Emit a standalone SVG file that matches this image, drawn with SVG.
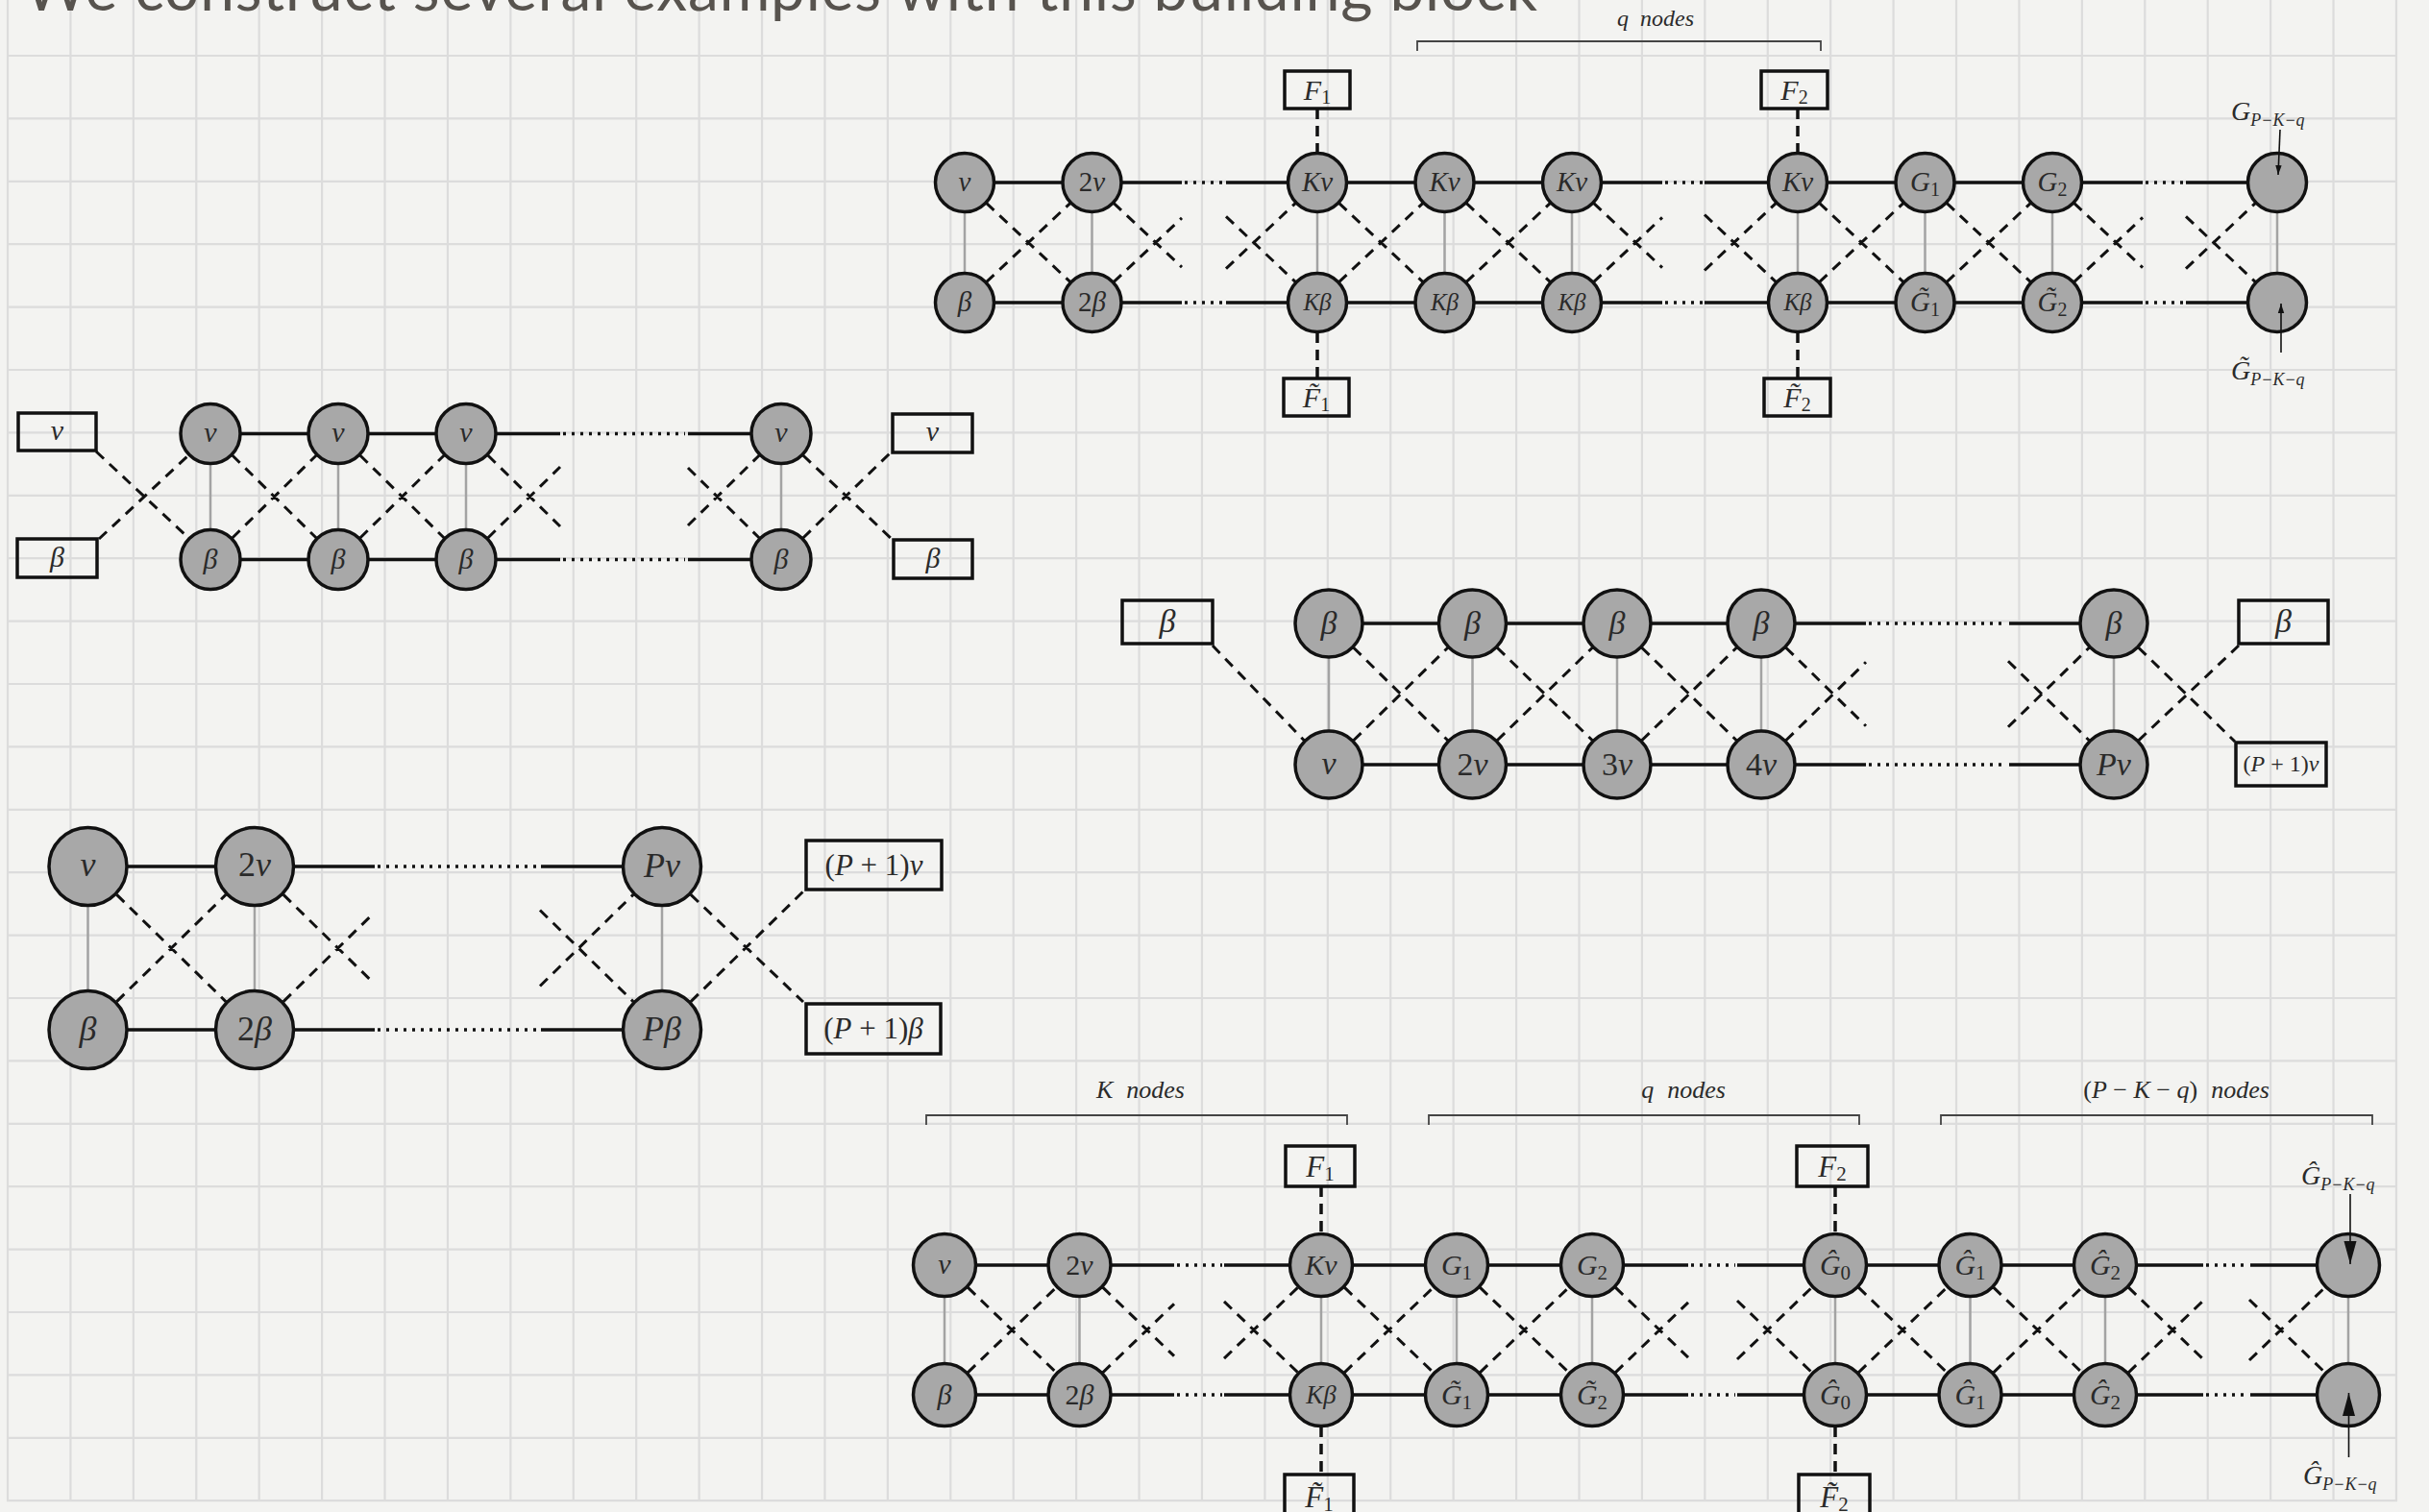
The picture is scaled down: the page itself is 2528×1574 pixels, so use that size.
<svg xmlns="http://www.w3.org/2000/svg" width="2528" height="1574" viewBox="0 0 2528 1574">
<defs>
<style>
.n{fill:#a8a8a8;stroke:#111;stroke-width:3.5}
.e{stroke:#111;stroke-width:3.5;fill:none}
.dt{stroke:#111;stroke-width:3.5;stroke-dasharray:3 6;fill:none}
.v{stroke:#a3a3a3;stroke-width:2.5;fill:none}
.x{stroke:#111;stroke-width:3;stroke-dasharray:11 8;fill:none}
.fd{stroke:#111;stroke-width:3.5;stroke-dasharray:11 7;fill:none}
.bx{fill:none;stroke:#111;stroke-width:3.5}
.br{fill:none;stroke:#444;stroke-width:1.8}
.ar{stroke:#111;stroke-width:1.6;fill:none}
.m{font-family:"Liberation Serif","DejaVu Serif",serif;font-style:italic;fill:#2a2a2a;text-anchor:middle}
.ms{font-family:"Liberation Serif","DejaVu Serif",serif;font-style:italic;fill:#2a2a2a;text-anchor:start}
.u{font-style:normal}
.a{font-size:29px}
.b{font-size:30px}
.c{font-size:36px}
.d{font-size:34px}
</style>
<marker id="ahs" markerUnits="userSpaceOnUse" markerWidth="10" markerHeight="8" refX="10" refY="4" orient="auto"><path d="M0,0.8 L10,4 L0,7.2 z" fill="#111"/></marker>
<marker id="ahb" markerUnits="userSpaceOnUse" markerWidth="24" markerHeight="14" refX="24" refY="7" orient="auto"><path d="M0,0.5 L24,7 L0,13.5 z" fill="#111"/></marker>
</defs>
<rect width="2528" height="1574" fill="#f3f3f1"/>
<path fill="none" stroke="#dcdcdc" stroke-width="2.2" d="M8,0V1563M73.42,0V1563M138.84,0V1563M204.26,0V1563M269.68,0V1563M335.1,0V1563M400.52,0V1563M465.94,0V1563M531.36,0V1563M596.78,0V1563M662.2,0V1563M727.62,0V1563M793.04,0V1563M858.46,0V1563M923.88,0V1563M989.3,0V1563M1054.72,0V1563M1120.14,0V1563M1185.56,0V1563M1250.98,0V1563M1316.4,0V1563M1381.82,0V1563M1447.24,0V1563M1512.66,0V1563M1578.08,0V1563M1643.5,0V1563M1708.92,0V1563M1774.34,0V1563M1839.76,0V1563M1905.18,0V1563M1970.6,0V1563M2036.02,0V1563M2101.44,0V1563M2166.86,0V1563M2232.28,0V1563M2297.7,0V1563M2363.12,0V1563M2428.54,0V1563M2493.96,0V1563M7,58H2495M7,123.4H2495M7,188.8H2495M7,254.2H2495M7,319.6H2495M7,385H2495M7,450.4H2495M7,515.8H2495M7,581.2H2495M7,646.6H2495M7,712H2495M7,777.4H2495M7,842.8H2495M7,908.2H2495M7,973.6H2495M7,1039H2495M7,1104.4H2495M7,1169.8H2495M7,1235.2H2495M7,1300.6H2495M7,1366H2495M7,1431.4H2495M7,1496.8H2495M7,1562.2H2495"/>

<text x="25" y="11" font-family="Lato,'Open Sans',sans-serif" font-size="64" fill="#57534e" textLength="1575">We construct several examples with this building block</text>

<g id="connectors">
<!-- Diagram A -->
<path class="e" d="M1004,190H1230M1276,190H1730M1774,190H2230M2275,190H2370M1004,315H1230M1276,315H1730M1774,315H2230M2275,315H2370"/>
<path class="dt" d="M1233,190H1274M1733,190H1772M2233,190H2273M1233,315H1274M1733,315H1772M2233,315H2273"/>
<path class="v" d="M1004,190V315M1136.5,190V315M1371,190V315M1503.5,190V315M1636,190V315M1871,190V315M2003.5,190V315M2136,190V315M2370,190V315"/>
<path class="x" d="M1026.5,211.3L1114,293.7M1026.5,293.7L1114,211.3M1393.5,211.3L1481,293.7M1393.5,293.7L1481,211.3M1526,211.3L1613.5,293.7M1526,293.7L1613.5,211.3M1893.5,211.3L1981,293.7M1893.5,293.7L1981,211.3M2026,211.3L2113.5,293.7M2026,293.7L2113.5,211.3M1159,211.3L1230,278.2M1159,293.7L1230,226.8M1276,225.4L1348.5,293.7M1276,279.6L1348.5,211.3M1658.5,211.3L1730,278.7M1658.5,293.7L1730,226.3M1774,223.5L1848.5,293.7M1774,281.5L1848.5,211.3M2158.5,211.3L2230,278.6M2158.5,293.7L2230,226.4M2275,225.4L2347.5,293.7M2275,279.6L2347.5,211.3"/>
<path class="fd" d="M1371,113V160M1371,346V394M1871,113V160M1871,346V394"/>
<path class="br" d="M1475,53V43H1895V53"/>
<!-- Diagram B -->
<path class="e" d="M219,451.5H583M716,451.5H813M219,582.5H583M716,582.5H813"/>
<path class="dt" d="M586,451.5H713M586,582.5H713"/>
<path class="v" d="M219,451.5V582.5M352,451.5V582.5M485,451.5V582.5M813,451.5V582.5"/>
<path class="x" d="M100,470L196.2,560M103,561L196.2,474M241.8,474L329.2,560M241.8,560L329.2,474M374.8,474L462.2,560M374.8,560L462.2,474M507.8,474L583,548M507.8,560L583,486M716,487L790.2,560M716,547L790.2,474M835.8,474L928,561M835.8,560L926,472"/>
<!-- Diagram C -->
<path class="e" d="M91.5,902H390M563,902H689M91.5,1072H390M563,1072H689"/>
<path class="dt" d="M393,902H560M393,1072H560"/>
<path class="v" d="M91.5,902V1072M265,902V1072M689,902V1072"/>
<path class="x" d="M121.5,931.4L235,1042.6M121.5,1042.6L235,931.4M295,931.4L390,1024.5M295,1042.6L390,949.5M562,947.5L659,1042.6M562,1026.5L659,931.4M719,931.4L836,1043M719,1042.6L836,928"/>
<!-- Diagram D -->
<path class="e" d="M1383,649H1942M2091,649H2200M1383,796H1942M2091,796H2200"/>
<path class="dt" d="M1945,649H2089M1945,796H2089"/>
<path class="v" d="M1383,649V796M1532.5,649V796M1683,649V796M1833,649V796M2200,649V796"/>
<path class="x" d="M1262,672L1357.3,770.8M1408.7,674.2L1506.8,770.8M1408.7,770.8L1506.8,674.2M1558.2,674.2L1657.3,770.8M1558.2,770.8L1657.3,674.2M1708.7,674.2L1807.3,770.8M1708.7,770.8L1807.3,674.2M1858.7,674.2L1942,755.8M1858.7,770.8L1942,689.2M2090,688.2L2174.3,770.8M2090,756.8L2174.3,674.2M2225.7,674.2L2326,772M2225.7,770.8L2330,672"/>
<!-- Diagram E -->
<path class="e" d="M983,1317H1222M1274,1317H1757M1808,1317H2293M2342,1317H2444M983,1452H1222M1274,1452H1757M1808,1452H2293M2342,1452H2444"/>
<path class="dt" d="M1225,1317H1272M1760,1317H1806M2296,1317H2340M1225,1452H1272M1760,1452H1806M2296,1452H2340"/>
<path class="v" d="M983,1317V1452M1123.5,1317V1452M1375,1317V1452M1516,1317V1452M1657,1317V1452M1910,1317V1452M2050.5,1317V1452M2191,1317V1452M2444,1317V1452"/>
<path class="x" d="M1007.2,1340.2L1099.3,1428.8M1007.2,1428.8L1099.3,1340.2M1399.2,1340.2L1491.8,1428.8M1399.2,1428.8L1491.8,1340.2M1540.2,1340.2L1632.8,1428.8M1540.2,1428.8L1632.8,1340.2M1934.2,1340.2L2026.3,1428.8M1934.2,1428.8L2026.3,1340.2M2074.7,1340.2L2166.8,1428.8M2074.7,1428.8L2166.8,1340.2M1147.7,1340.2L1222,1411.7M1147.7,1428.8L1222,1357.3M1274,1354.9L1350.8,1428.8M1274,1414.1L1350.8,1340.2M1681.2,1340.2L1757,1413.1M1681.2,1428.8L1757,1355.9M1808,1354L1885.8,1428.8M1808,1415L1885.8,1340.2M2215.2,1340.2L2293,1415M2215.2,1428.8L2293,1354M2341,1353L2419.8,1428.8M2341,1416L2419.8,1340.2"/>
<path class="fd" d="M1375,1235V1284M1375,1485V1535M1910,1235V1284M1910,1485V1535"/>
<path class="br" d="M964,1171V1161H1402V1171M1487,1171V1161H1935V1171M2020,1171V1161H2469V1171"/>
</g>

<!-- Diagram A nodes -->
<g id="A-top1"><circle class="n" cx="1004" cy="190" r="30.5"/><text class="m a" x="1004" y="199">ν</text></g>
<g id="A-top2"><circle class="n" cx="1136.5" cy="190" r="30.5"/><text class="m a" x="1136.5" y="199"><tspan class="u">2</tspan>ν</text></g>
<g id="A-top3"><circle class="n" cx="1371" cy="190" r="30.5"/><text class="m a" x="1371" y="199">Kν</text></g>
<g id="A-top4"><circle class="n" cx="1503.5" cy="190" r="30.5"/><text class="m a" x="1503.5" y="199">Kν</text></g>
<g id="A-top5"><circle class="n" cx="1636" cy="190" r="30.5"/><text class="m a" x="1636" y="199">Kν</text></g>
<g id="A-top6"><circle class="n" cx="1871" cy="190" r="30.5"/><text class="m a" x="1871" y="199">Kν</text></g>
<g id="A-top7"><circle class="n" cx="2003.5" cy="190" r="30.5"/><text class="m a" x="2003.5" y="199">G<tspan class="u" font-size="20" dy="5">1</tspan></text></g>
<g id="A-top8"><circle class="n" cx="2136" cy="190" r="30.5"/><text class="m a" x="2136" y="199">G<tspan class="u" font-size="20" dy="5">2</tspan></text></g>
<g id="A-top9"><circle class="n" cx="2370" cy="190" r="30.5"/></g>
<g id="A-bot1"><circle class="n" cx="1004" cy="315" r="30.5"/><text class="m a" x="1004" y="324">β</text></g>
<g id="A-bot2"><circle class="n" cx="1136.5" cy="315" r="30.5"/><text class="m a" x="1136.5" y="324"><tspan class="u">2</tspan>β</text></g>
<g id="A-bot3"><circle class="n" cx="1371" cy="315" r="30.5"/><text class="m" font-size="25" x="1371" y="323">Kβ</text></g>
<g id="A-bot4"><circle class="n" cx="1503.5" cy="315" r="30.5"/><text class="m" font-size="25" x="1503.5" y="323">Kβ</text></g>
<g id="A-bot5"><circle class="n" cx="1636" cy="315" r="30.5"/><text class="m" font-size="25" x="1636" y="323">Kβ</text></g>
<g id="A-bot6"><circle class="n" cx="1871" cy="315" r="30.5"/><text class="m" font-size="25" x="1871" y="323">Kβ</text></g>
<g id="A-bot7"><circle class="n" cx="2003.5" cy="315" r="30.5"/><text class="m a" x="2003.5" y="324">G&#x303;<tspan class="u" font-size="20" dy="5">1</tspan></text></g>
<g id="A-bot8"><circle class="n" cx="2136" cy="315" r="30.5"/><text class="m a" x="2136" y="324">G&#x303;<tspan class="u" font-size="20" dy="5">2</tspan></text></g>
<g id="A-bot9"><circle class="n" cx="2370" cy="315" r="30.5"/></g>
<g id="A-F1"><rect class="bx" x="1337" y="74" width="68" height="39"/><text class="m" font-size="30" x="1371" y="104">F<tspan class="u" font-size="20" dy="4">1</tspan></text></g>
<g id="A-F1t"><rect class="bx" x="1336" y="394" width="68" height="39"/><text class="m" font-size="30" x="1370" y="424">F&#x303;<tspan class="u" font-size="20" dy="4">1</tspan></text></g>
<g id="A-F2"><rect class="bx" x="1833" y="74" width="69" height="39"/><text class="m" font-size="30" x="1867.5" y="104">F<tspan class="u" font-size="20" dy="4">2</tspan></text></g>
<g id="A-F2t"><rect class="bx" x="1836" y="394" width="69" height="39"/><text class="m" font-size="30" x="1870.5" y="424">F&#x303;<tspan class="u" font-size="20" dy="4">2</tspan></text></g>
<g id="A-qlabel"><text class="m" font-size="24" x="1723" y="27">q<tspan dx="12">nodes</tspan></text></g>
<g id="A-Glabel"><text class="ms" font-size="28" x="2322" y="125">G<tspan font-size="18" dy="6">P−K−q</tspan></text></g>
<g id="A-Gtlabel"><text class="ms" font-size="28" x="2322" y="395">G&#x303;<tspan font-size="18" dy="6">P−K−q</tspan></text></g>

<!-- Diagram B nodes -->
<g id="B-lnu"><rect class="bx" x="19" y="430" width="81" height="39"/><text class="m b" x="59.5" y="458">ν</text></g>
<g id="B-lbeta"><rect class="bx" x="18" y="561" width="83" height="40"/><text class="m b" x="59.5" y="590">β</text></g>
<g id="B-top1"><circle class="n" cx="219" cy="451.5" r="31"/><text class="m b" x="219" y="460">ν</text></g>
<g id="B-top2"><circle class="n" cx="352" cy="451.5" r="31"/><text class="m b" x="352" y="460">ν</text></g>
<g id="B-top3"><circle class="n" cx="485" cy="451.5" r="31"/><text class="m b" x="485" y="460">ν</text></g>
<g id="B-top4"><circle class="n" cx="813" cy="451.5" r="31"/><text class="m b" x="813" y="460">ν</text></g>
<g id="B-bot1"><circle class="n" cx="219" cy="582.5" r="31"/><text class="m b" x="219" y="592">β</text></g>
<g id="B-bot2"><circle class="n" cx="352" cy="582.5" r="31"/><text class="m b" x="352" y="592">β</text></g>
<g id="B-bot3"><circle class="n" cx="485" cy="582.5" r="31"/><text class="m b" x="485" y="592">β</text></g>
<g id="B-bot4"><circle class="n" cx="813" cy="582.5" r="31"/><text class="m b" x="813" y="592">β</text></g>
<g id="B-rnu"><rect class="bx" x="929" y="431" width="83" height="40"/><text class="m b" x="970.5" y="459">ν</text></g>
<g id="B-rbeta"><rect class="bx" x="930" y="562" width="82" height="40"/><text class="m b" x="971" y="591">β</text></g>

<!-- Diagram C nodes -->
<g id="C-top1"><circle class="n" cx="91.5" cy="902" r="40.5"/><text class="m c" x="91.5" y="912">ν</text></g>
<g id="C-top2"><circle class="n" cx="265" cy="902" r="40.5"/><text class="m c" x="265" y="912"><tspan class="u">2</tspan>ν</text></g>
<g id="C-top3"><circle class="n" cx="689" cy="902" r="40.5"/><text class="m c" x="689" y="913">Pν</text></g>
<g id="C-bot1"><circle class="n" cx="91.5" cy="1072" r="40.5"/><text class="m c" x="91.5" y="1083">β</text></g>
<g id="C-bot2"><circle class="n" cx="265" cy="1072" r="40.5"/><text class="m c" x="265" y="1083"><tspan class="u">2</tspan>β</text></g>
<g id="C-bot3"><circle class="n" cx="689" cy="1072" r="40.5"/><text class="m c" x="689" y="1083">Pβ</text></g>
<g id="C-box1"><rect class="bx" x="839" y="875" width="141" height="51"/><text class="m" font-size="31" x="909.5" y="911"><tspan class="u">(</tspan>P<tspan class="u"> + 1)</tspan>ν</text></g>
<g id="C-box2"><rect class="bx" x="839" y="1045" width="140" height="52"/><text class="m" font-size="31" x="909" y="1081"><tspan class="u">(</tspan>P<tspan class="u"> + 1)</tspan>β</text></g>

<!-- Diagram D nodes -->
<g id="D-lbeta"><rect class="bx" x="1168" y="625" width="94" height="45"/><text class="m d" x="1215" y="658">β</text></g>
<g id="D-top1"><circle class="n" cx="1383" cy="649" r="35"/><text class="m d" x="1383" y="660">β</text></g>
<g id="D-top2"><circle class="n" cx="1532.5" cy="649" r="35"/><text class="m d" x="1532.5" y="660">β</text></g>
<g id="D-top3"><circle class="n" cx="1683" cy="649" r="35"/><text class="m d" x="1683" y="660">β</text></g>
<g id="D-top4"><circle class="n" cx="1833" cy="649" r="35"/><text class="m d" x="1833" y="660">β</text></g>
<g id="D-top5"><circle class="n" cx="2200" cy="649" r="35"/><text class="m d" x="2200" y="660">β</text></g>
<g id="D-bot1"><circle class="n" cx="1383" cy="796" r="35"/><text class="m d" x="1383" y="806">ν</text></g>
<g id="D-bot2"><circle class="n" cx="1532.5" cy="796" r="35"/><text class="m d" x="1532.5" y="807"><tspan class="u">2</tspan>ν</text></g>
<g id="D-bot3"><circle class="n" cx="1683" cy="796" r="35"/><text class="m d" x="1683" y="807"><tspan class="u">3</tspan>ν</text></g>
<g id="D-bot4"><circle class="n" cx="1833" cy="796" r="35"/><text class="m d" x="1833" y="807"><tspan class="u">4</tspan>ν</text></g>
<g id="D-bot5"><circle class="n" cx="2200" cy="796" r="35"/><text class="m d" x="2200" y="807">Pν</text></g>
<g id="D-rbeta"><rect class="bx" x="2330" y="625" width="93" height="45"/><text class="m d" x="2376.5" y="658">β</text></g>
<g id="D-rbox"><rect class="bx" x="2327" y="773" width="94" height="45"/><text class="m" font-size="24" x="2374" y="803"><tspan class="u">(</tspan>P<tspan class="u"> + 1)</tspan>ν</text></g>

<!-- Diagram E nodes -->
<g id="E-top1"><circle class="n" cx="983" cy="1317" r="32.5"/><text class="m b" x="983" y="1326">ν</text></g>
<g id="E-top2"><circle class="n" cx="1123.5" cy="1317" r="32.5"/><text class="m b" x="1123.5" y="1327"><tspan class="u">2</tspan>ν</text></g>
<g id="E-top3"><circle class="n" cx="1375" cy="1317" r="32.5"/><text class="m b" x="1375" y="1327">Kν</text></g>
<g id="E-top4"><circle class="n" cx="1516" cy="1317" r="32.5"/><text class="m b" x="1516" y="1327">G<tspan class="u" font-size="21" dy="5">1</tspan></text></g>
<g id="E-top5"><circle class="n" cx="1657" cy="1317" r="32.5"/><text class="m b" x="1657" y="1327">G<tspan class="u" font-size="21" dy="5">2</tspan></text></g>
<g id="E-top6"><circle class="n" cx="1910" cy="1317" r="32.5"/><text class="m b" x="1910" y="1327">Ĝ<tspan class="u" font-size="21" dy="5">0</tspan></text></g>
<g id="E-top7"><circle class="n" cx="2050.5" cy="1317" r="32.5"/><text class="m b" x="2050.5" y="1327">Ĝ<tspan class="u" font-size="21" dy="5">1</tspan></text></g>
<g id="E-top8"><circle class="n" cx="2191" cy="1317" r="32.5"/><text class="m b" x="2191" y="1327">Ĝ<tspan class="u" font-size="21" dy="5">2</tspan></text></g>
<g id="E-top9"><circle class="n" cx="2444" cy="1317" r="32.5"/></g>
<g id="E-bot1"><circle class="n" cx="983" cy="1452" r="32.5"/><text class="m b" x="983" y="1462">β</text></g>
<g id="E-bot2"><circle class="n" cx="1123.5" cy="1452" r="32.5"/><text class="m b" x="1123.5" y="1462"><tspan class="u">2</tspan>β</text></g>
<g id="E-bot3"><circle class="n" cx="1375" cy="1452" r="32.5"/><text class="m" font-size="27" x="1375" y="1461">Kβ</text></g>
<g id="E-bot4"><circle class="n" cx="1516" cy="1452" r="32.5"/><text class="m b" x="1516" y="1462">G&#x303;<tspan class="u" font-size="21" dy="5">1</tspan></text></g>
<g id="E-bot5"><circle class="n" cx="1657" cy="1452" r="32.5"/><text class="m b" x="1657" y="1462">G&#x303;<tspan class="u" font-size="21" dy="5">2</tspan></text></g>
<g id="E-bot6"><circle class="n" cx="1910" cy="1452" r="32.5"/><text class="m b" x="1910" y="1462">Ĝ<tspan class="u" font-size="21" dy="5">0</tspan></text></g>
<g id="E-bot7"><circle class="n" cx="2050.5" cy="1452" r="32.5"/><text class="m b" x="2050.5" y="1462">Ĝ<tspan class="u" font-size="21" dy="5">1</tspan></text></g>
<g id="E-bot8"><circle class="n" cx="2191" cy="1452" r="32.5"/><text class="m b" x="2191" y="1462">Ĝ<tspan class="u" font-size="21" dy="5">2</tspan></text></g>
<g id="E-bot9"><circle class="n" cx="2444" cy="1452" r="32.5"/></g>
<g id="E-F1"><rect class="bx" x="1338" y="1193" width="72" height="42"/><text class="m" font-size="31" x="1374" y="1225">F<tspan class="u" font-size="21" dy="4">1</tspan></text></g>
<g id="E-F1t"><rect class="bx" x="1337" y="1535" width="72" height="44"/><text class="m" font-size="31" x="1373" y="1569">F&#x303;<tspan class="u" font-size="21" dy="4">1</tspan></text></g>
<g id="E-F2"><rect class="bx" x="1870" y="1193" width="74" height="42"/><text class="m" font-size="31" x="1907" y="1225">F<tspan class="u" font-size="21" dy="4">2</tspan></text></g>
<g id="E-F2t"><rect class="bx" x="1872" y="1535" width="74" height="44"/><text class="m" font-size="31" x="1909" y="1569">F&#x303;<tspan class="u" font-size="21" dy="4">2</tspan></text></g>
<g id="E-Klabel"><text class="m" font-size="26" x="1187" y="1143">K<tspan dx="14">nodes</tspan></text></g>
<g id="E-qlabel"><text class="m" font-size="26" x="1752" y="1143">q<tspan dx="14">nodes</tspan></text></g>
<g id="E-PKqlabel"><text class="m" font-size="26" x="2265" y="1143"><tspan class="u">(</tspan>P<tspan class="u"> − </tspan>K<tspan class="u"> − </tspan>q<tspan class="u">)</tspan><tspan dx="14">nodes</tspan></text></g>
<g id="E-Ghlabel"><text class="ms" font-size="28" x="2395" y="1233">Ĝ<tspan font-size="18" dy="6">P−K−q</tspan></text></g>
<g id="E-Ghlabel2"><text class="ms" font-size="28" x="2397" y="1545">Ĝ<tspan font-size="18" dy="6">P−K−q</tspan></text></g>

<g id="arrows">
<path class="ar" d="M2373,135L2371,182" marker-end="url(#ahs)"/>
<path class="ar" d="M2374,367V316" marker-end="url(#ahs)"/>
<path class="ar" d="M2446,1243V1316" marker-end="url(#ahb)"/>
<path class="ar" d="M2444.5,1517V1450" marker-end="url(#ahb)"/>
</g>
</svg>
